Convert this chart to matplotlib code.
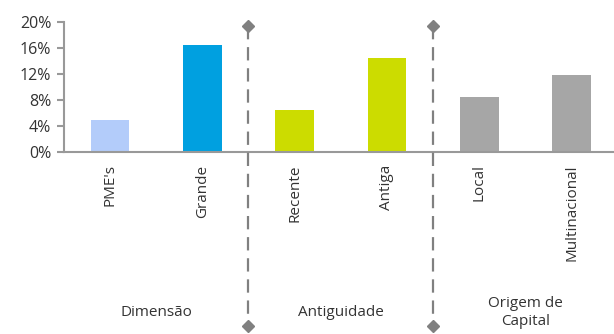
import matplotlib.pyplot as plt
from matplotlib.ticker import FuncFormatter

categories = ["PME's", "Grande", "Recente", "Antiga", "Local", "Multinacional"]
values = [4.9, 16.5, 6.5, 14.5, 8.5, 11.85]
colors = ["#B3CCFA", "#00A0E0", "#CCDC00", "#CCDC00", "#A6A6A6", "#A6A6A6"]
groups = ["Dimensão", "Antiguidade", "Origem de\nCapital"]
y_ticks = [0, 4, 8, 12, 16, 20]

plt.rcParams['font.family'] = ['Open Sans', 'DejaVu Sans']
text_color = "#333333"
axis_color = "#999999"

fig = plt.figure(figsize=(6.14, 3.34), dpi=100)
ax = fig.add_axes([0.104, 0.545, 0.896, 0.389])

x = list(range(len(categories)))
ax.bar(x, values, width=0.42, color=colors, zorder=2)

ax.set_xlim(-0.5, 5.46)
ax.set_ylim(0, 20)
ax.set_yticks(y_ticks)
ax.yaxis.set_major_formatter(FuncFormatter(lambda v, p: f"{v:.0f}%"))
ax.set_xticks(x)
ax.set_xticklabels(categories, rotation=90, va="top")

for side in ["top", "right"]:
    ax.spines[side].set_visible(False)
for side in ["left", "bottom"]:
    ax.spines[side].set_color(axis_color)
    ax.spines[side].set_linewidth(1.5)

ax.tick_params(axis="y", colors=axis_color, labelcolor=text_color,
               labelsize=11.5, length=5, width=1.5, pad=4)
ax.tick_params(axis="x", length=0, labelcolor=text_color, labelsize=11, pad=9)

# separadores entre grupos
for xs in [1.5, 3.5]:
    ax.plot([xs, xs], [19.4, -26.8], color="#808080", lw=1.6,
            dashes=(6, 3.5), clip_on=False, zorder=3)
    ax.plot([xs, xs], [19.4, -26.8], ls="none", marker="D", ms=6.5,
            color="#808080", clip_on=False, zorder=4)

# nomes dos grupos
for i, g in enumerate(groups):
    ax.text(2 * i + 0.5, -24.7, g, ha="center", va="center",
            fontsize=11, color=text_color, clip_on=False,
            linespacing=1.25)

fig.savefig("out.png", dpi=100)
